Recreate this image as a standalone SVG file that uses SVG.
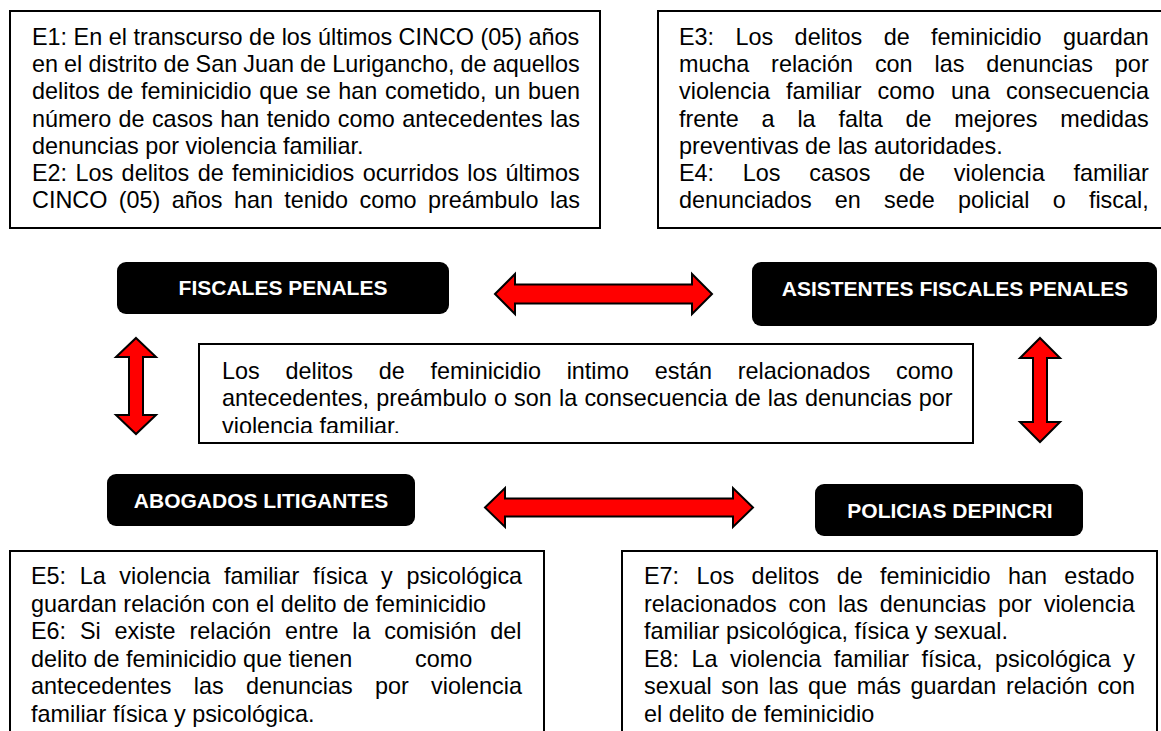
<svg xmlns="http://www.w3.org/2000/svg" width="1161" height="731" viewBox="0 0 1161 731">
<style>
.box{fill:#fff;stroke:#000;stroke-width:2}
.lbl{fill:#000}
.t{font-family:"Liberation Sans",Arial,sans-serif;font-size:23.4px;fill:#000}
.b{font-family:"Liberation Sans",Arial,sans-serif;font-size:21px;font-weight:bold;fill:#fff;text-anchor:middle}
.arr{fill:#ff0000;stroke:#000;stroke-width:2;stroke-linejoin:miter}
</style>
<defs>
<clipPath id="cc"><rect x="199" y="344" width="774" height="89"/></clipPath>
</defs>
<rect width="1161" height="731" fill="#fff"/>

<g id="e1">
<rect class="box" x="10" y="11" width="590" height="217"/>
<text class="t" x="32" y="45">E1: En el transcurso de los últimos CINCO (05) años</text>
<text class="t" x="32" y="72" style="word-spacing:-0.4px">en el distrito de San Juan de Lurigancho, de aquellos</text>
<text class="t" x="32" y="99" style="word-spacing:1.2px">delitos de feminicidio que se han cometido, un buen</text>
<text class="t" x="32" y="127" style="word-spacing:0.8px">número de casos han tenido como antecedentes las</text>
<text class="t" x="32" y="154">denuncias por violencia familiar.</text>
<text class="t" x="32" y="181" style="word-spacing:1.9px">E2: Los delitos de feminicidios ocurridos los últimos</text>
<text class="t" x="32" y="208" style="word-spacing:4.9px">CINCO (05) años han tenido como preámbulo las</text>
</g>

<g id="e3">
<rect class="box" x="658" y="11" width="520" height="217"/>
<text class="t" x="679" y="45" style="word-spacing:14.9px">E3: Los delitos de feminicidio guardan</text>
<text class="t" x="679" y="72" style="word-spacing:15.4px">mucha relación con las denuncias por</text>
<text class="t" x="679" y="99" style="word-spacing:9.6px">violencia familiar como una consecuencia</text>
<text class="t" x="679" y="127" style="word-spacing:16.3px">frente a la falta de mejores medidas</text>
<text class="t" x="679" y="154">preventivas de las autoridades.</text>
<text class="t" x="679" y="181" style="word-spacing:22.2px">E4: Los casos de violencia familiar</text>
<text class="t" x="679" y="208" style="word-spacing:16.7px">denunciados en sede policial o fiscal,</text>
</g>

<g id="fiscales">
<rect class="lbl" x="117" y="262" width="332" height="52" rx="9"/>
<text class="b" x="283" y="295">FISCALES PENALES</text>
</g>

<g id="asistentes">
<rect class="lbl" x="752" y="262" width="405" height="64" rx="9"/>
<text class="b" x="955" y="296">ASISTENTES FISCALES PENALES</text>
</g>

<g id="centro">
<rect class="box" x="199" y="344" width="774" height="99"/>
<g clip-path="url(#cc)">
<text class="t" x="222" y="379" style="word-spacing:19.2px">Los delitos de feminicidio intimo están relacionados como</text>
<text class="t" x="222" y="406" style="word-spacing:0.7px">antecedentes, preámbulo o son la consecuencia de las denuncias por</text>
<text class="t" x="222" y="434">violencia familiar.</text>
</g>
</g>

<g id="abogados">
<rect class="lbl" x="107" y="474" width="308" height="52" rx="9"/>
<text class="b" x="261" y="508">ABOGADOS LITIGANTES</text>
</g>

<g id="policias">
<rect class="lbl" x="815" y="484" width="268" height="52" rx="9"/>
<text class="b" x="950" y="518">POLICIAS DEPINCRI</text>
</g>

<g id="e5">
<rect class="box" x="10" y="551" width="534" height="200"/>
<text class="t" x="31" y="584" style="word-spacing:7.1px">E5: La violencia familiar física y psicológica</text>
<text class="t" x="31" y="611.5">guardan relación con el delito de feminicidio</text>
<text class="t" x="31" y="639" style="word-spacing:7.3px">E6: Si existe relación entre la comisión del</text>
<text class="t" x="31" y="666.5">delito de feminicidio que tienen</text>
<text class="t" x="415" y="666.5">como</text>
<text class="t" x="31" y="694" style="word-spacing:15.8px">antecedentes las denuncias por violencia</text>
<text class="t" x="31" y="721.5">familiar física y psicológica.</text>
</g>

<g id="e7">
<rect class="box" x="622" y="551" width="535" height="200"/>
<text class="t" x="644" y="584" style="word-spacing:10.9px">E7: Los delitos de feminicidio han estado</text>
<text class="t" x="644" y="611.5" style="word-spacing:5.3px">relacionados con las denuncias por violencia</text>
<text class="t" x="644" y="639">familiar psicológica, física y sexual.</text>
<text class="t" x="644" y="666.5" style="word-spacing:6px">E8: La violencia familiar física, psicológica y</text>
<text class="t" x="644" y="694" style="word-spacing:3.1px">sexual son las que más guardan relación con</text>
<text class="t" x="644" y="721.5">el delito de feminicidio</text>
</g>

<g id="connectors">
<path class="arr" d="M495,294 L515,274 L515,284.5 L692,284.5 L692,274 L712,294 L692,314 L692,303.5 L515,303.5 L515,314 Z"/>
<path class="arr" d="M485,507.5 L505,488 L505,498.5 L733,498.5 L733,488 L753,507.5 L733,527 L733,516.5 L505,516.5 L505,527 Z"/>
<path class="arr" d="M136,338 L156,357 L143,357 L143,415 L156,415 L136,434 L116,415 L129,415 L129,357 L116,357 Z"/>
<path class="arr" d="M1040,338 L1060,358 L1047,358 L1047,422 L1060,422 L1040,442 L1020,422 L1033,422 L1033,358 L1020,358 Z"/>
</g>
</svg>
